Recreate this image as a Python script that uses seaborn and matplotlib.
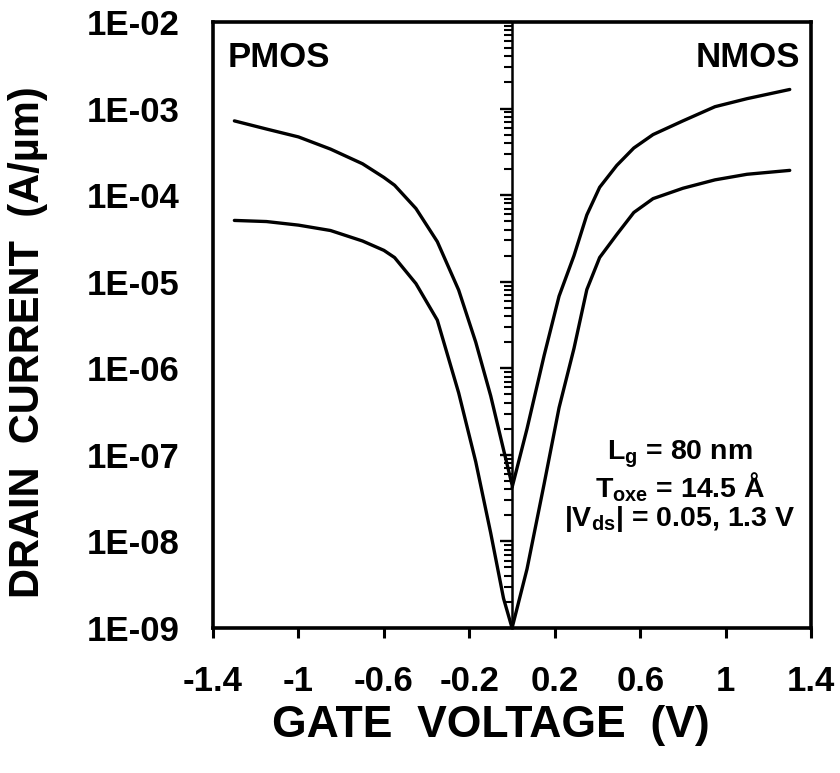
import numpy as np
import pandas as pd
import seaborn as sns
import matplotlib.pyplot as plt
from matplotlib.ticker import NullLocator, LogLocator, FixedLocator

# PMOS side (negative gate voltage)
vg_p = [-1.3, -1.15, -1.0, -0.85, -0.7, -0.6, -0.55, -0.45, -0.35, -0.25, -0.17, -0.1, -0.04, 0.0]
id_p_hi = [7.2e-4, 5.8e-4, 4.7e-4, 3.4e-4, 2.3e-4, 1.6e-4, 1.3e-4, 7.0e-5, 2.9e-5,
           8.0e-6, 2.0e-6, 4.8e-7, 1.15e-7, 4.5e-8]
id_p_lo = [5.1e-5, 4.95e-5, 4.5e-5, 3.9e-5, 2.95e-5, 2.3e-5, 1.9e-5, 9.5e-6, 3.6e-6,
           5.2e-7, 8.3e-8, 1.25e-8, 2.2e-9, 1.0e-9]

# NMOS side (positive gate voltage)
vg_n = [0.0, 0.07, 0.15, 0.22, 0.29, 0.35, 0.41, 0.49, 0.57, 0.66, 0.8, 0.95, 1.1, 1.3]
id_n_hi = [4.2e-8, 2.0e-7, 1.4e-6, 6.8e-6, 2.0e-5, 5.9e-5, 1.23e-4, 2.2e-4, 3.5e-4,
           5.0e-4, 7.2e-4, 1.05e-3, 1.3e-3, 1.66e-3]
id_n_lo = [1.0e-9, 4.8e-9, 4.6e-8, 3.5e-7, 1.7e-6, 8.1e-6, 1.9e-5, 3.5e-5, 6.3e-5,
           9.1e-5, 1.2e-4, 1.5e-4, 1.74e-4, 1.93e-4]

xticks = [-1.4, -1.0, -0.6, -0.2, 0.2, 0.6, 1.0, 1.4]
xticklabels = ['-1.4', '-1', '-0.6', '-0.2', '0.2', '0.6', '1', '1.4']
yticks = [1e-9, 1e-8, 1e-7, 1e-6, 1e-5, 1e-4, 1e-3, 1e-2]
yticklabels = ['1E-09', '1E-08', '1E-07', '1E-06', '1E-05', '1E-04', '1E-03', '1E-02']

sns.set_style('white')
plt.rcParams['font.family'] = ['Liberation Sans', 'DejaVu Sans']
plt.rcParams['font.weight'] = 'bold'
plt.rcParams['mathtext.fontset'] = 'custom'
plt.rcParams['mathtext.rm'] = 'Liberation Sans:bold'
plt.rcParams['mathtext.it'] = 'Liberation Sans:bold'
plt.rcParams['mathtext.bf'] = 'Liberation Sans:bold'
for key in ['text.color', 'axes.labelcolor', 'xtick.color', 'ytick.color', 'axes.edgecolor']:
    plt.rcParams[key] = 'black'

df = pd.concat([
    pd.DataFrame({'vg': vg_p, 'id': id_p_hi, 'curve': 'p_hi'}),
    pd.DataFrame({'vg': vg_p, 'id': id_p_lo, 'curve': 'p_lo'}),
    pd.DataFrame({'vg': vg_n, 'id': id_n_hi, 'curve': 'n_hi'}),
    pd.DataFrame({'vg': vg_n, 'id': id_n_lo, 'curve': 'n_lo'}),
])

fig = plt.figure(figsize=(8.4, 7.73), dpi=100)
ax = fig.add_axes([0.2536, 0.1876, 0.712, 0.784])
sns.lineplot(data=df, x='vg', y='id', units='curve', estimator=None, sort=False,
             color='black', linewidth=2.4, ax=ax)
ax.set_yscale('log')
ax.set_xlim(-1.4, 1.4)
ax.set_ylim(1e-9, 1e-2)

ax.set_xticks(xticks)
ax.set_xticklabels(xticklabels)
ax.set_yticks(yticks)
ax.set_yticklabels(yticklabels)
ax.yaxis.set_minor_locator(NullLocator())
ax.tick_params(axis='x', direction='out', length=7, width=2.2, labelsize=25, pad=20, bottom=True)
ax.tick_params(axis='y', length=0, labelsize=25, pad=24, left=True)
for lab in ax.get_xticklabels() + ax.get_yticklabels():
    lab.set_fontweight('bold')

for s in ax.spines.values():
    s.set_linewidth(2.6)
    s.set_color('black')

# log tick axis running through Vg = 0
sec = ax.secondary_yaxis(0.5)
sec.spines['right'].set_linewidth(1.8)
sec.yaxis.set_major_locator(FixedLocator(yticks))
sec.yaxis.set_minor_locator(LogLocator(base=10, subs=np.arange(2, 10), numticks=100))
sec.tick_params(which='major', direction='in', length=9, width=1.7, labelright=False)
sec.tick_params(which='minor', direction='in', length=6, width=1.5, labelright=False)

ax.set_xlabel('GATE  VOLTAGE  (V)', fontsize=32, fontweight='bold')
ax.xaxis.set_label_coords(0.465, -0.127)
ax.set_ylabel('DRAIN  CURRENT  (A/\u00b5m)', fontsize=30, fontweight='bold')
ax.yaxis.set_label_coords(-0.276, 0.472)

ax.text(0.025, 0.942, 'PMOS', transform=ax.transAxes, fontsize=25, fontweight='bold',
        ha='left', va='center')
ax.text(0.982, 0.942, 'NMOS', transform=ax.transAxes, fontsize=25, fontweight='bold',
        ha='right', va='center')
ax.text(0.781, 0.287, r'L$_{g}$ = 80 nm', transform=ax.transAxes, fontsize=20.5,
        fontweight='bold', ha='center', va='center')
ax.text(0.781, 0.232, r'T$_{oxe}$ = 14.5 Å', transform=ax.transAxes, fontsize=20.5,
        fontweight='bold', ha='center', va='center')
ax.text(0.781, 0.180, r'|V$_{ds}$| = 0.05, 1.3 V', transform=ax.transAxes, fontsize=20.5,
        fontweight='bold', ha='center', va='center')

fig.savefig('out.png', dpi=100)
